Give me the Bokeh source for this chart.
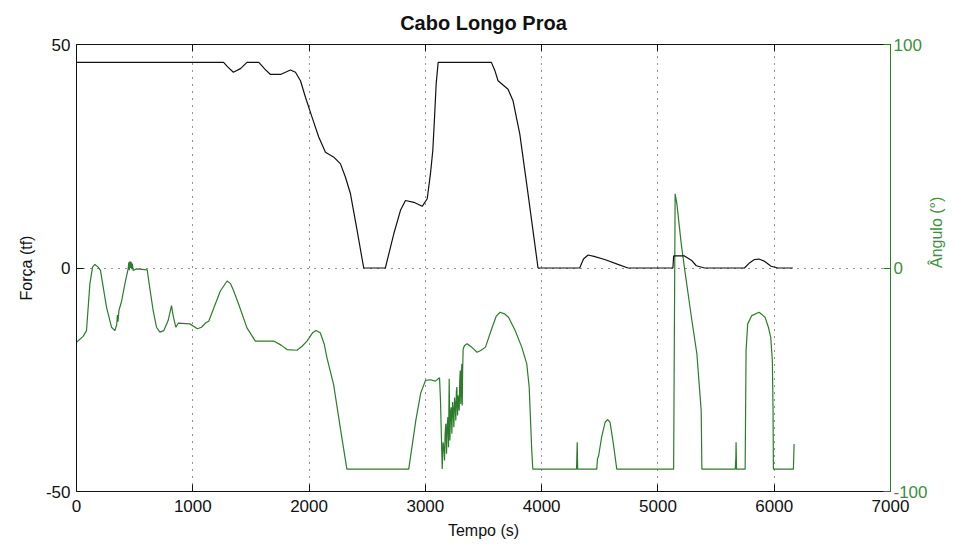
import math
from bokeh.plotting import figure
from bokeh.models import (Range1d, LinearAxis, FixedTicker, ColumnDataSource,
                          PrintfTickFormatter)
from bokeh.embed import file_html
from bokeh.resources import INLINE

# Força no cabo (tf) ao longo do tempo (s)
force_time = [0, 1265, 1300, 1349, 1410, 1466, 1568, 1620, 1668, 1754, 1840, 1883,
              1926, 1969, 2026, 2083, 2141, 2213, 2270, 2313, 2356, 2413, 2470, 2656,
              2728, 2786, 2829, 2901, 2973, 3016, 3044, 3064, 3079, 3093, 3110, 3568,
              3600, 3625, 3711, 3754, 3812, 3883, 3969, 4327, 4360, 4399, 4450, 4542,
              4656, 4742, 5129, 5135, 5229, 5290, 5330, 5401, 5744, 5790, 5830, 5870,
              5916, 5973, 6031, 6160]
force_value = [46, 46, 45, 43.8, 44.6, 46, 46, 44.5, 43.3, 43.3, 44.3, 43.8,
               41.9, 38.2, 33.7, 29.3, 25.9, 24.8, 23.3, 20.3, 16.6, 8.4, 0, 0,
               7.6, 12.9, 15.1, 14.7, 13.8, 15.5, 21.1, 26.3, 33.7, 41.2, 46, 46,
               44, 41.9, 40, 37.4, 30, 16.6, 0, 0, 2, 2.9, 2.6, 1.9,
               0.8, 0, 0, 2.7, 2.7, 1.7, 0.5, 0, 0, 1.2, 1.9, 2.0,
               1.5, 0.4, 0, 0]

# Ângulo do cabo (graus) ao longo do tempo (s)
angle_time = [0, 57, 86, 115, 138, 158, 186, 206, 258, 301, 330, 345, 352, 357, 365,
              387, 416, 444, 450, 455, 460, 465, 470, 475, 480, 487, 516, 608, 625,
              659, 688, 717, 751, 788, 817, 831, 854, 874, 975, 1040, 1075, 1112,
              1137, 1180, 1237, 1295, 1325, 1352, 1400, 1466, 1538, 1695, 1760, 1810,
              1896, 1940, 1982, 2030, 2060, 2096, 2130, 2154, 2211, 2270, 2325, 2857,
              2918, 2960, 3001, 3044, 3087, 3122, 3130, 3145, 3152, 3159, 3165, 3170,
              3176, 3182, 3188, 3194, 3199, 3205, 3211, 3216, 3222, 3228, 3234, 3240,
              3245, 3251, 3257, 3262, 3267, 3271, 3277, 3281, 3285, 3291, 3296, 3300,
              3305, 3310, 3314, 3317, 3321, 3325, 3337, 3359, 3400, 3445, 3480, 3517,
              3575, 3610, 3643, 3680, 3715, 3772, 3829, 3872, 3893, 3915, 3924, 4300,
              4306, 4310, 4474, 4480, 4490, 4516, 4546, 4568, 4588, 4617, 4646, 5135,
              5148, 5163, 5200, 5235, 5292, 5335, 5372, 5378, 5665, 5670, 5672, 5676,
              5750, 5758, 5772, 5807, 5870, 5921, 5950, 5970, 5984, 5990, 5993, 6165,
              6171]
angle_value = [-33.2, -30.6, -28, -7.1, 0.4, 1.6, 0.4, -1.1, -17.5, -26.5, -28, -25.5, -21, -24, -19,
               -15, -7.1, -0.4, 2.5, -1, 3, 0, 2.8, -0.5, 2, -1.1, -0.4, -0.8, -7.1,
               -19, -26.5, -28.7, -28, -23.5, -16.8, -21.3, -26.5, -24.7, -25, -27.2, -26.5, -24.5,
               -23.8, -18, -10.3, -5.8, -7, -10.3, -17, -26.8, -32.7, -32.7, -34.5, -36.5,
               -36.8, -35, -32.7, -29, -28, -29, -34, -40.2, -52.2, -72, -90, -90,
               -68.2, -56, -50.3, -50, -50.6, -49.1, -59, -89.9, -78, -80.2, -86.1, -74,
               -69.7, -83.1, -70, -66.7, -80.2, -49.6, -77.2, -65, -62.3, -74.2, -60, -63.8,
               -71.2, -58, -61.5, -68.2, -55, -53.3, -66, -57, -59.3, -63.8, -50, -45.9,
               -60.8, -47, -42.9, -61.5, -45, -36.2, -34.7, -33.9, -35.5, -37.7, -36.8, -35.4,
               -26.5, -21.5, -19.8, -20.5, -22, -28, -35.4, -42.9, -53.3, -81.7, -90, -90,
               -78, -90, -90, -85.4, -84, -75.7, -69, -67.8, -69, -78.7, -90, -90,
               33.2, 28.7, 11, -2.5, -23.5, -38.4, -63.8, -90, -90, -85, -78, -90,
               -90, -36.9, -25, -21.3, -19.8, -22, -26.5, -31, -41.4, -63.8, -90, -90,
               -78.7]

x_ticks = [0, 1000, 2000, 3000, 4000, 5000, 6000, 7000]
force_ticks = [-50, 0, 50]
angle_ticks = [-100, 0, 100]
title_text = "Cabo Longo Proa"

GREEN = "#2b7d2b"
GREEN_TEXT = "#3d8f3d"
FONT = "Liberation Sans"

p = figure(width=958, height=547, output_backend="svg", toolbar_location=None,
           x_range=Range1d(0, 7000), y_range=Range1d(-50, 50),
           min_border_left=76, min_border_right=68, min_border_top=44,
           min_border_bottom=56, background_fill_color="white",
           border_fill_color="white")
p.extra_y_ranges = {"ang": Range1d(-100, 100)}
p.outline_line_color = None

# dotted grid, MATLAB style
p.xgrid.ticker = FixedTicker(ticks=x_ticks)
p.ygrid.ticker = FixedTicker(ticks=force_ticks)
for g in (p.xgrid, p.ygrid):
    g.grid_line_color = "#222222"
    g.grid_line_dash = "1 6"
    g.grid_line_width = 1

def style_axis(ax, color, text_color):
    ax.axis_line_color = color
    ax.major_tick_line_color = color
    ax.minor_tick_line_color = None
    ax.major_tick_out = 0
    ax.major_tick_in = 7
    ax.major_label_text_font = FONT
    ax.major_label_text_font_size = "17px"
    ax.major_label_text_color = text_color
    ax.axis_label_text_font = FONT
    ax.axis_label_text_font_size = "16px"
    ax.axis_label_text_font_style = "normal"
    ax.axis_label_text_color = text_color

xa = p.xaxis[0]
xa.ticker = FixedTicker(ticks=x_ticks)
style_axis(xa, "#111111", "#111111")
xa.axis_label = "Tempo (s)"
xa.major_label_standoff = 8
xa.axis_label_standoff = 7

ya = p.yaxis[0]
ya.ticker = FixedTicker(ticks=force_ticks)
ya.formatter = PrintfTickFormatter(format="%d")
style_axis(ya, "#111111", "#111111")
ya.axis_label = "Força (tf)"
ya.major_label_standoff = 6
ya.axis_label_standoff = 8

# top border with inward ticks; its label serves as the chart title
top = LinearAxis(ticker=FixedTicker(ticks=x_ticks))
style_axis(top, "#111111", "#111111")
top.major_label_text_font_size = "0px"
top.major_label_standoff = 0
top.axis_label = title_text
top.axis_label_text_font_size = "20px"
top.axis_label_text_font_style = "bold"
top.axis_label_standoff = 11
p.add_layout(top, "above")

ra = LinearAxis(y_range_name="ang", ticker=FixedTicker(ticks=angle_ticks),
                formatter=PrintfTickFormatter(format="%d"))
style_axis(ra, GREEN, GREEN_TEXT)
ra.axis_label = "Ângulo (°)"
ra.major_label_standoff = 3
ra.axis_label_standoff = 6
ra.axis_label_orientation = math.pi / 2
p.add_layout(ra, "right")

force_src = ColumnDataSource(dict(t=force_time, f=force_value))
angle_src = ColumnDataSource(dict(t=angle_time, a=angle_value))

p.line("t", "a", source=angle_src, line_color=GREEN, line_width=1.2,
       y_range_name="ang")
p.line("t", "f", source=force_src, line_color="#111111", line_width=1.2)

open("out.html", "w").write(file_html(p, INLINE))
